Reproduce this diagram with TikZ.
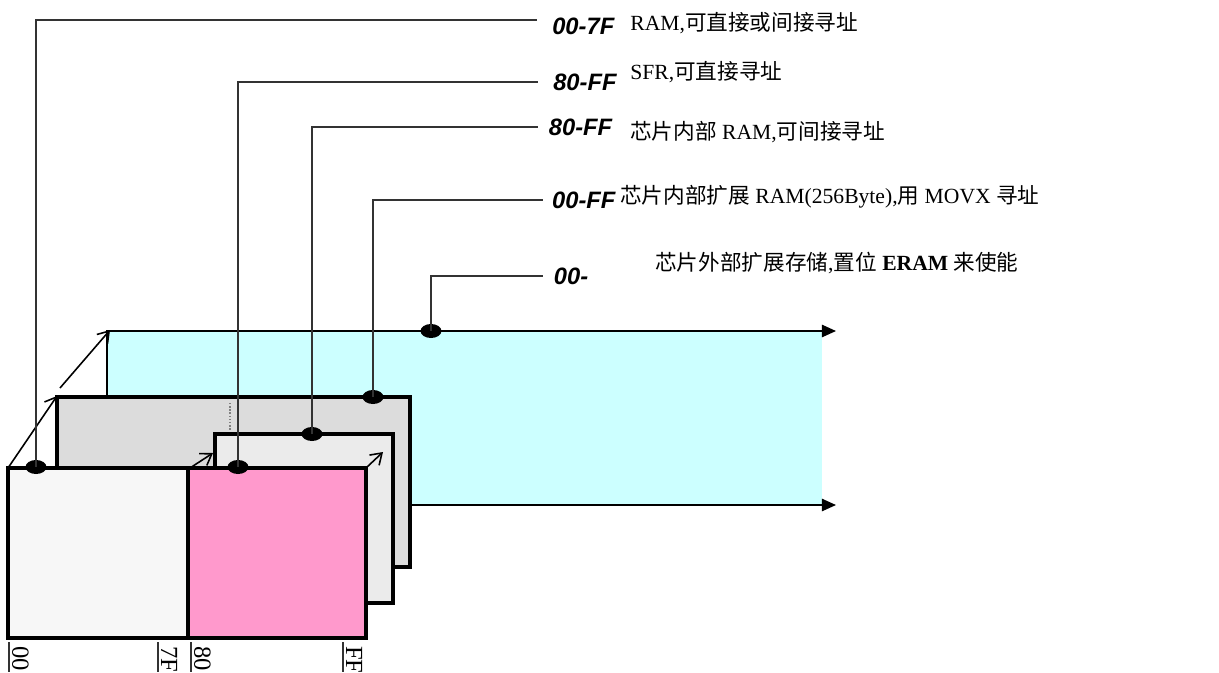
\documentclass[tikz,border=0pt]{standalone}
\usepackage{fontspec}
\setmainfont{Liberation Serif}
\newfontfamily\cjk{Noto Sans CJK SC}
\newfontfamily\addrfont{Liberation Sans}
\usetikzlibrary{arrows.meta,shapes.geometric}
\newcommand{\zh}[1]{{\cjk #1}}

\definecolor{cyanfill}{HTML}{CCFFFF}
\definecolor{grayfill}{HTML}{DCDCDC}
\definecolor{lightfill}{HTML}{EBEBEB}
\definecolor{whitefill}{HTML}{F7F7F7}
\definecolor{pinkfill}{HTML}{FF99CC}

\tikzset{
	bank/.style={draw=black, line width=2.1pt},
	conn/.style={draw=black!80, line width=1pt},
	dot/.style={ellipse, fill=black, minimum width=0.42cm, minimum height=0.28cm, inner sep=0pt},
	addr/.style={anchor=west, inner xsep=8.5pt, font=\addrfont\bfseries\itshape\fontsize{13.5}{15}\selectfont},
	note/.style={anchor=west, inner xsep=0pt, font=\fontsize{12.3}{14}\selectfont},
	tick/.style={rotate=-90, anchor=south west, inner sep=1pt, font=\fontsize{14}{16}\selectfont},
	depth/.style={-{Straight Barb[length=6pt,width=8pt]}, line width=0.9pt},
	axis/.style={-{Triangle[length=8pt,width=7pt]}, line width=0.9pt}
}

\begin{document}
\begin{tikzpicture}[x=0.02cm,y=-0.02cm]
		\useasboundingbox (0,0) rectangle (1219,672);
		% external memory
		\fill[cyanfill] (107,331) rectangle (822,505);
		\draw[axis] (107,505) -- (107,331) -- (836,331);
		\draw[axis] (107,505) -- (836,505);
		% memory banks
		\filldraw[bank, fill=grayfill] (57,397) rectangle (410,567);
		\draw[densely dotted, gray, line width=0.8pt] (230,403) -- (230,430);
		\filldraw[bank, fill=lightfill] (215,434) rectangle (393,603);
		\filldraw[bank, fill=whitefill] (8,468) rectangle (188,638);
		\filldraw[bank, fill=pinkfill] (188,468) rectangle (366,638);
		% depth arrows
		\draw[depth] (8,468) -- (57,396);
		\draw[depth] (60,388) -- (110,330);
		\draw[depth] (190,468) -- (213,453);
		\draw[depth] (366,468) -- (383,452);
		% taps
		\node[dot] (ram) at (36,467) {};
		\node[dot] (sfr) at (238,467) {};
		\node[dot] (iram) at (312,434) {};
		\node[dot] (xram) at (373,397) {};
		\node[dot] (eram) at (431,331) {};
		% address ranges
		\node[addr] (a1) at (537,26) {00-7F};
		\node[addr] (a2) at (538,82) {80-FF};
		\node[addr, inner xsep=6pt] (a3) at (538,127) {80-FF};
		\node[addr, inner xsep=5pt] (a4) at (543,200) {00-FF};
		\node[addr, inner xsep=6pt] (a5) at (543,276) {00-};
		\draw[conn] (ram.center) |- ([yshift=3.4pt]a1.west);
		\draw[conn] (sfr.center) |- (a2.west);
		\draw[conn] (iram.center) |- (a3.west);
		\draw[conn] (xram.center) |- (a4.west);
		\draw[conn] (eram.center) |- (a5.west);
		% notes
		\node[note] (n1) at (630,23) {RAM,\zh{可直接或间接寻址}};
		\node[note] (n2) at (630,72) {SFR,\zh{可直接寻址}};
		\node[note] (n3) at (630,132) {\zh{芯片内部} RAM,\zh{可间接寻址}};
		\node[note] (n4) at (620,197) {\zh{芯片内部扩展} RAM(256Byte),\zh{用} MOVX \zh{寻址}};
		\node[note] (n5) at (655,263) {\zh{芯片外部扩展存储},\zh{置位} \textbf{ERAM} \zh{来使能}};
		% bottom addresses
		\draw[conn] (9,642) -- (9,672);
		\draw[conn] (158,642) -- (158,672);
		\draw[conn] (191,642) -- (191,672);
		\draw[conn] (343,642) -- (343,672);
		\node[tick] (t1) at (10,644) {00};
		\node[tick] (t2) at (159,644) {7F};
		\node[tick] (t3) at (192,644) {80};
		\node[tick] (t4) at (344,644) {FF};
\end{tikzpicture}
\end{document}
